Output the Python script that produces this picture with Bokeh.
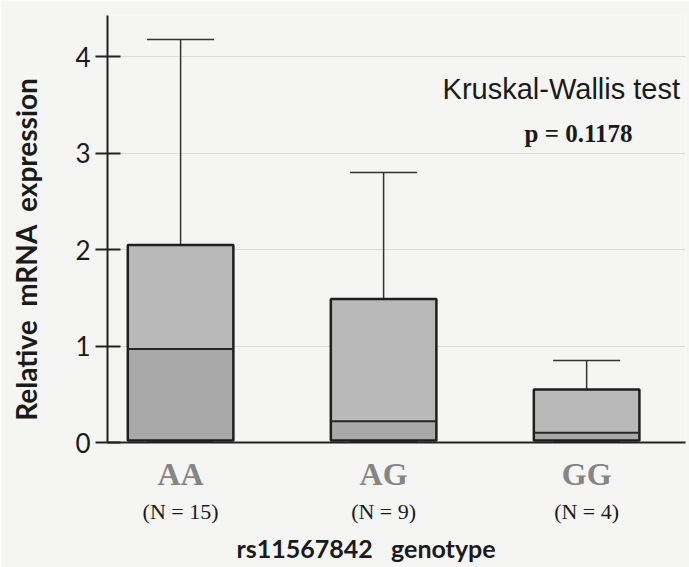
from bokeh.plotting import figure
from bokeh.models import Range1d, FixedTicker, LinearAxis, Label, ColumnDataSource
from bokeh.embed import file_html
from bokeh.resources import INLINE

# ---- data ----
genotypes = ["AA", "AG", "GG"]
n_labels = ["(N = 15)", "(N = 9)", "(N = 4)"]
x_pos = [1, 2, 3]
whisker_low = [0.0, 0.0, 0.0]
q1 = [0.02, 0.02, 0.02]
median = [0.97, 0.22, 0.10]
q3 = [2.05, 1.49, 0.55]
whisker_high = [4.18, 2.80, 0.85]
y_ticks = [0, 1, 2, 3, 4]
test_name = "Kruskal-Wallis test"
p_text = "p = 0.1178"
y_title = "Relative\u00a0\u00a0mRNA\u00a0\u00a0expression" + "\u00a0" * 6
x_title = "rs11567842\u00a0\u00a0\u00a0genotype" + "\u00a0" * 10

BG = "#f5f5f3"
BOX_W = 0.52
CAP_W = 0.33

p = figure(width=689, height=567, output_backend="svg", toolbar_location=None,
           x_range=Range1d(0.64, 3.487), y_range=Range1d(0, 4.43),
           min_border_left=107, min_border_right=4, min_border_top=15,
           min_border_bottom=125, background_fill_color=BG, border_fill_color=BG,
           outline_line_color=None)

src = ColumnDataSource(dict(
    x=x_pos,
    left=[v - BOX_W / 2 for v in x_pos], right=[v + BOX_W / 2 for v in x_pos],
    cl=[v - CAP_W / 2 for v in x_pos], cr=[v + CAP_W / 2 for v in x_pos],
    wl=whisker_low, q1=q1, med=median, q3=q3, wh=whisker_high))

# whiskers
p.segment(x0="x", y0="q3", x1="x", y1="wh", source=src, line_color="#333333", line_width=1.5)
p.segment(x0="cl", y0="wh", x1="cr", y1="wh", source=src, line_color="#333333", line_width=1.5)
p.segment(x0="cl", y0="wl", x1="cr", y1="wl", source=src, line_color="#444444", line_width=3)
# boxes
p.quad(left="left", right="right", bottom="med", top="q3", source=src,
       fill_color="#b9b9b9", line_color=None)
p.quad(left="left", right="right", bottom="q1", top="med", source=src,
       fill_color="#a9a9a9", line_color=None)
p.quad(left="left", right="right", bottom="q1", top="q3", source=src,
       fill_color=None, line_color="#1e1e1e", line_width=2.5)
p.segment(x0="left", y0="med", x1="right", y1="med", source=src,
          line_color="#262626", line_width=2)

# grid
p.xgrid.grid_line_color = None
p.ygrid.grid_line_color = "#dadada"
p.ygrid.grid_line_width = 1
p.ygrid.ticker = FixedTicker(ticks=y_ticks)

# y axis
ya = p.yaxis[0]
ya.ticker = FixedTicker(ticks=y_ticks)
ya.axis_line_color = "#222222"
ya.axis_line_width = 2
ya.major_tick_line_color = "#222222"
ya.major_tick_line_width = 2
ya.major_tick_in = 13
ya.major_tick_out = 12
ya.minor_tick_line_color = None
ya.major_label_text_font = "Lato"
ya.major_label_text_font_size = "26px"
ya.major_label_text_color = "#1a1a1a"
ya.major_label_standoff = 5
ya.axis_label = y_title
ya.axis_label_text_font = "Lato"
ya.axis_label_text_font_style = "bold"
ya.axis_label_text_font_size = "28px"
ya.axis_label_text_color = "#1a1a1a"
ya.axis_label_standoff = 29

# x axis (genotype labels)
xa = p.xaxis[0]
xa.ticker = FixedTicker(ticks=x_pos)
xa.major_label_overrides = {v: g for v, g in zip(x_pos, genotypes)}
xa.axis_line_color = "#222222"
xa.axis_line_width = 2
xa.major_tick_line_color = None
xa.major_tick_out = 0
xa.major_tick_in = 0
xa.minor_tick_line_color = None
xa.major_label_text_font = "Liberation Serif"
xa.major_label_text_font_style = "bold"
xa.major_label_text_font_size = "32px"
xa.major_label_text_color = "#858585"
xa.major_label_standoff = 13

# second axis: N labels + axis title
xa2 = LinearAxis(ticker=FixedTicker(ticks=x_pos),
                 major_label_overrides={v: n for v, n in zip(x_pos, n_labels)})
xa2.axis_line_color = None
xa2.major_tick_line_color = None
xa2.major_tick_out = 0
xa2.major_tick_in = 0
xa2.minor_tick_line_color = None
xa2.major_label_text_font = "Liberation Serif"
xa2.major_label_text_font_size = "22px"
xa2.major_label_text_color = "#1a1a1a"
xa2.major_label_standoff = 4
xa2.axis_label = x_title
xa2.axis_label_text_font = "Lato"
xa2.axis_label_text_font_style = "bold"
xa2.axis_label_text_font_size = "25px"
xa2.axis_label_text_color = "#1a1a1a"
xa2.axis_label_standoff = 6
p.add_layout(xa2, "below")

# annotations
p.add_layout(Label(x=3.46, y=3.67, text=test_name, text_align="right",
                   text_baseline="middle", text_font="Liberation Sans",
                   text_font_size="29px", text_color="#1a1a1a"))
p.add_layout(Label(x=2.96, y=3.21, text=p_text, text_align="center",
                   text_baseline="middle", text_font="Liberation Serif",
                   text_font_style="bold", text_font_size="25px", text_color="#1a1a1a"))

open("out.html", "w").write(file_html(p, INLINE))
